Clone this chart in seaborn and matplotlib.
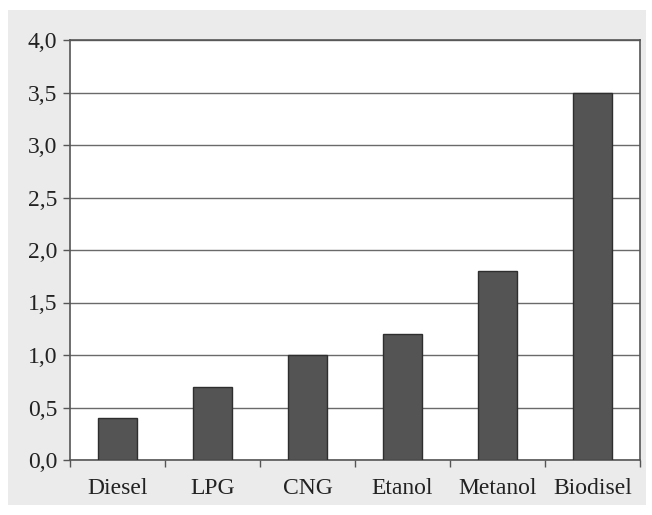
import matplotlib
matplotlib.use("Agg")
import matplotlib.pyplot as plt
from matplotlib.patches import Rectangle
import seaborn as sns
import pandas as pd

# values
fuels = ['Diesel', 'LPG', 'CNG', 'Etanol', 'Metanol', 'Biodisel']
values = [0.4, 0.7, 1.0, 1.2, 1.8, 3.5]
yticks = [0.0, 0.5, 1.0, 1.5, 2.0, 2.5, 3.0, 3.5, 4.0]

sns.set_style("white")
plt.rcParams['font.family'] = ['Liberation Serif', 'DejaVu Serif']

df = pd.DataFrame({'fuel': fuels, 'value': values})

fig = plt.figure(figsize=(6.52, 5.15), dpi=100)
fig.patch.set_facecolor('white')
# scanned grey panel behind the chart
fig.patches.append(Rectangle((8 / 652, 10 / 515), 638 / 652, 495 / 515,
                             transform=fig.transFigure, facecolor='#ebebeb',
                             edgecolor='none', zorder=-1))

ax = fig.add_axes([70 / 652, 55 / 515, 570 / 652, 420 / 515])
ax.set_facecolor('white')

sns.barplot(data=df, x='fuel', y='value', color='#545454', width=0.42,
            edgecolor='#2e2e2e', linewidth=1.0, saturation=1, ax=ax, zorder=3)

ax.set_ylim(0, 4.0)
ax.set_xlim(-0.5, len(fuels) - 0.5)
ax.set_yticks(yticks)
ax.set_yticklabels([f"{t:.1f}".replace('.', ',') for t in yticks])
ax.yaxis.grid(True, color='#6a6a6a', linewidth=1.0, zorder=0)
ax.set_axisbelow(True)

# x ticks sit between categories
ax.set_xticks(range(len(fuels)))
ax.set_xticklabels(fuels)
ax.set_xticks([i + 0.5 for i in range(-1, len(fuels))], minor=True)
ax.tick_params(axis='x', which='both', bottom=True)
ax.tick_params(axis='x', which='major', length=0, pad=13, labelsize=17, labelcolor='#222222')
ax.tick_params(axis='x', which='minor', length=5, width=1, color='#555555', direction='out')
ax.tick_params(axis='y', left=True, length=5, width=1, color='#555555', direction='out',
               pad=4, labelsize=17, labelcolor='#222222')

for side in ['left', 'bottom', 'right', 'top']:
    ax.spines[side].set_visible(True)
    ax.spines[side].set_color('#555555')
    ax.spines[side].set_linewidth(1.2)

ax.set_xlabel('')
ax.set_ylabel('')

fig.savefig('out.png', dpi=100, facecolor=fig.get_facecolor())
